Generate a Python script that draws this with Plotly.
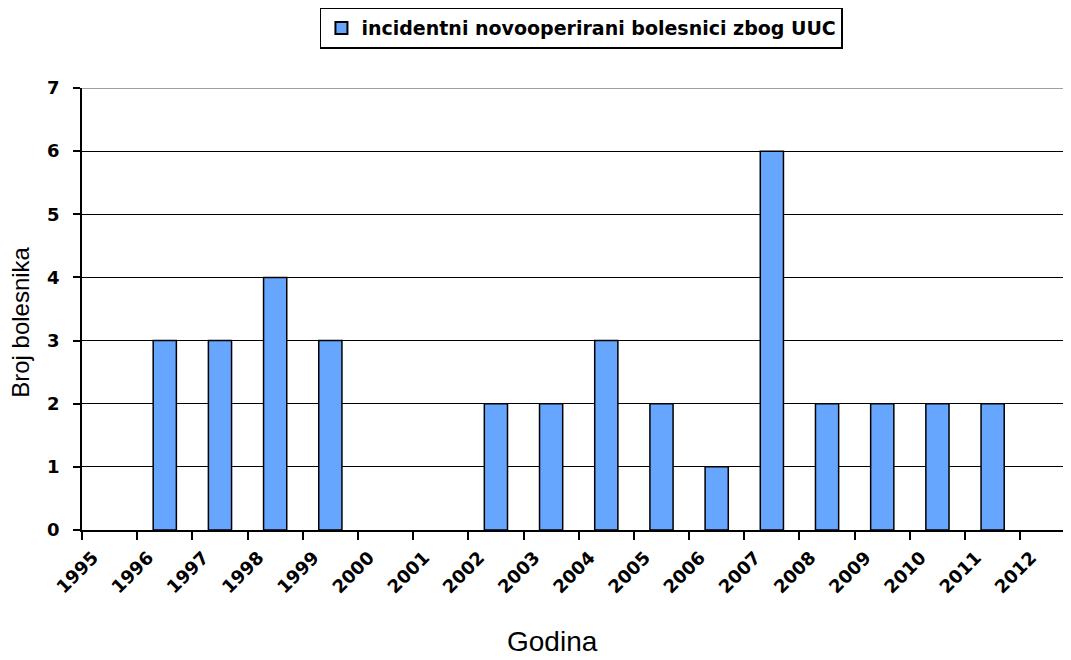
import plotly.graph_objects as go

years = list(range(1995, 2013))
counts = [0, 3, 3, 4, 3, 0, 0, 2, 2, 3, 2, 1, 6, 2, 2, 2, 2, 0]
series_name = "incidentni novooperirani bolesnici zbog UUC"
x_title = "Godina"
y_title = "Broj bolesnika"
y_ticks = [0, 1, 2, 3, 4, 5, 6, 7]

# bars sit in the middle of each year's interval; empty years draw nothing
bar_x = [y + 0.5 for y, c in zip(years, counts) if c > 0]
bar_y = [c for c in counts if c > 0]

fig = go.Figure()
fig.add_trace(go.Bar(
    x=bar_x, y=bar_y, width=0.42, name=series_name,
    marker=dict(color="#66A6FF", line=dict(color="black", width=1.5)),
    showlegend=True,
))

tick_font = dict(family="DejaVu Sans", size=18, color="black", weight="bold")

# the page has an 8px body margin, so the figure is 8px smaller each way
fig.update_layout(
    width=1063, height=652,
    paper_bgcolor="white", plot_bgcolor="white",
    margin=dict(l=74, r=0, t=80, b=129.5, autoexpand=False),
    showlegend=True,
    legend=dict(
        orientation="h", x=0.505, xanchor="center", y=1.182, yanchor="top",
        bordercolor="black", borderwidth=1.5, bgcolor="white",
        font=dict(family="DejaVu Sans", size=19, color="black", weight="bold"),
        itemsizing="constant", itemwidth=30,
    ),
    xaxis=dict(
        range=[1995, 2012.92], tickmode="array", tickvals=years,
        ticktext=[str(y) for y in years], tickangle=-45,
        ticks="outside", ticklen=8, tickwidth=1.5, tickcolor="black",
        showline=True, linecolor="black", linewidth=2,
        showgrid=False, zeroline=False, tickfont=tick_font,
        ticklabelshift=11, automargin=False,
    ),
    yaxis=dict(
        range=[0, 7], tickmode="array", tickvals=y_ticks,
        ticks="outside", ticklen=7, tickwidth=1.5, tickcolor="black",
        showline=True, linecolor="black", linewidth=1.5,
        showgrid=True, gridcolor="black", gridwidth=1.3, zeroline=False,
        tickfont=tick_font, ticklabelstandoff=10, automargin=False,
    ),
    annotations=[
        dict(text=x_title, xref="paper", yref="paper", x=0.476, y=-0.252,
             xanchor="center", yanchor="middle", showarrow=False,
             font=dict(family="Liberation Sans", size=28, color="black")),
        dict(text=y_title, xref="paper", yref="paper", x=-0.0617, y=0.471,
             xanchor="center", yanchor="middle", showarrow=False, textangle=-90,
             font=dict(family="Liberation Sans", size=24, color="black")),
    ],
    shapes=[
        dict(type="line", xref="paper", yref="y", x0=0, x1=1, y0=7, y1=7,
             line=dict(color="#808080", width=1.5)),
    ],
)

fig.write_html("out.html")
